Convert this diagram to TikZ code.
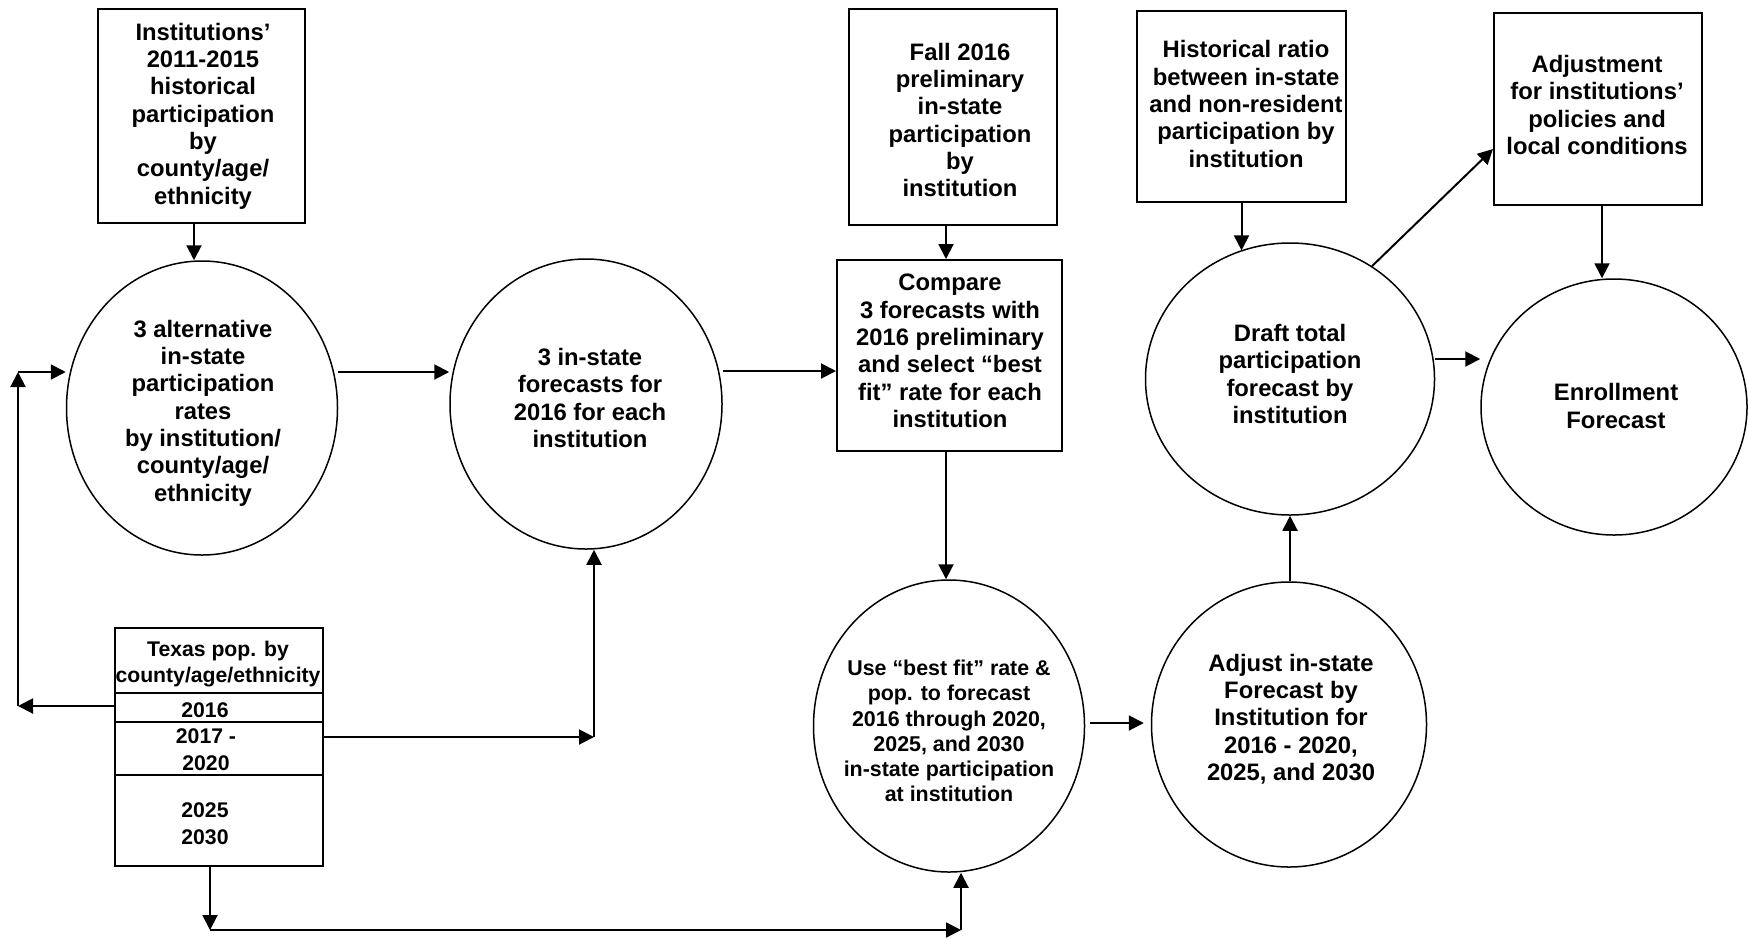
\documentclass[tikz,border=0pt]{standalone}
\usepackage{fontspec}
\setmainfont{Liberation Sans}
\usetikzlibrary{shapes.geometric,arrows.meta}
\begin{document}
\begin{tikzpicture}[x=0.5pt,y=-0.5pt,
  box/.style={draw, line width=1pt, inner sep=0pt},
  circ/.style={draw, ellipse, line width=0.75pt, inner sep=0pt},
  arr/.style={-{Triangle[length=7.5pt,width=7.5pt]}, line width=1pt},
  txt/.style={align=center, inner sep=0pt, font=\bfseries\fontsize{11.9}{13.65}\selectfont},
  stxt/.style={align=center, inner sep=0pt, font=\bfseries\fontsize{10.7}{12.6}\selectfont},
  ttxt/.style={align=center, inner sep=0pt, font=\bfseries\fontsize{10.6}{13.4}\selectfont}]
\fill[white] (0,0) rectangle (1748,938);
\useasboundingbox (0,0) rectangle (1748,938);

% boxes
\node[box, minimum width=103.5pt, minimum height=107pt] (A) at (201.5,116) {};
\node[txt] (At) at (203,116) {Institutions’\\2011-2015\\historical\\participation\\by\\county/age/\\ethnicity};

\node[box, minimum width=104pt, minimum height=108pt] (F) at (953,117) {};
\node[txt] (Ft) at (960,120) {Fall 2016\\preliminary\\in-state\\participation\\by\\institution};

\node[box, minimum width=112.5pt, minimum height=95.5pt] (Cmp) at (949.5,355.5) {};
\node[txt] (Cmpt) at (950,351) {Compare\\3 forecasts with\\2016 preliminary\\and select “best\\fit” rate for each\\institution};

\node[box, minimum width=104.5pt, minimum height=95.5pt] (H) at (1241.5,106.5) {};
\node[txt] (Ht) at (1246,104) {Historical ratio\\between in-state\\and non-resident\\participation by\\institution};

\node[box, minimum width=104pt, minimum height=96pt] (Adj) at (1598,109) {};
\node[txt] (Adjt) at (1597,105) {Adjustment\\for institutions’\\policies and\\local conditions};

\node[box, minimum width=104pt, minimum height=119pt] (Tx) at (219,747) {};
\node[ttxt] (Tx1) at (218,664) {Texas pop. by\\county/age/ethnicity};
\node[ttxt] (Tx2) at (205,710) {2016};
\node[ttxt] (Tx3) at (206,750) {2017 -\\2020};
\node[ttxt] (Tx4) at (205,824) {2025\\2030};
\draw[line width=1pt] (Tx.west |- 0,693) -- (Tx.east |- 0,693);
\draw[line width=1pt] (Tx.west |- 0,722) -- (Tx.east |- 0,722);
\draw[line width=1pt] (Tx.west |- 0,775) -- (Tx.east |- 0,775);

% ellipses
\node[circ, minimum width=135.5pt, minimum height=147pt] (C1) at (202,408) {};
\node[txt] (C1t) at (203,413) {3 alternative\\in-state\\participation\\rates\\by institution/\\county/age/\\ethnicity};

\node[circ, minimum width=136pt, minimum height=145pt] (C2) at (586,404) {};
\node[txt] (C2t) at (590,398) {3 in-state\\forecasts for\\2016 for each\\institution};

\node[circ, minimum width=135.5pt, minimum height=146pt] (Use) at (949,726) {};
\node[stxt] (Uset) at (949,731) {Use “best fit” rate \&\\pop. to forecast\\2016 through 2020,\\2025, and 2030\\in-state participation\\at institution};

\node[circ, minimum width=137.5pt, minimum height=142.5pt] (Adjust) at (1289,724.5) {};
\node[txt] (Adjustt) at (1291,719) {Adjust in-state\\Forecast by\\Institution for\\2016 - 2020,\\2025, and 2030};

\node[circ, minimum width=144.5pt, minimum height=136pt] (Draft) at (1290,379) {};
\node[txt] (Draftt) at (1290,374) {Draft total\\participation\\forecast by\\institution};

\node[circ, minimum width=133pt, minimum height=128pt] (Enr) at (1614,407) {};
\node[txt] (Enrt) at (1616,406) {Enrollment\\Forecast};

% connectors
\coordinate (L1) at (18,706);
\coordinate (L2) at (18,372);
\coordinate (R1) at (594,737);
\coordinate (B1) at (210,930);
\coordinate (B2) at (961,930);

\draw[arr] ([xshift=-3.75pt]A.south) -- ([xshift=-3.75pt]A.south |- C1.north);
\draw[arr] (C1.east |- 0,372) -- (C2.west |- 0,372);
\draw[arr] (Tx.west |- L1) -- (L1);
\draw[arr] (L1) -- (L2);
\draw[arr] (L2) -- (C1.west |- L2);
\draw[arr] (C2.east |- 0,371) -- (Cmp.west |- 0,371);
\draw[arr] (Tx.east |- R1) -- (R1);
\draw[arr] (R1) -- (R1 |- C2.south);
\draw[arr] (Tx.south -| B1) -- (B1);
\draw[arr] (B1) -- (B2);
\draw[arr] (B2) -- (B2 |- Use.south);
\draw[arr] (F.south -| 946,0) -- (Cmp.north -| 946,0);
\draw[arr] (Cmp.south -| 946,0) -- (Use.north -| 946,0);
\draw[arr, shorten <=2.5pt, shorten >=3.5pt] (Use.east |- 0,723) -- (Adjust.west |- 0,723);
\draw[arr] (Adjust.north -| 1290,0) -- (Draft.south -| 1290,0);
\draw[arr] (H.south) -- (H.south |- Draft.111);
\draw[arr] (Draft.54) -- ([yshift=-20pt]Adj.west);
\draw[arr] (Draft.east |- 0,359) -- (Enr.west |- 0,359);
\draw[arr] (Adj.south -| 1602,0) -- (Enr.north -| 1602,0);
\end{tikzpicture}
\end{document}
